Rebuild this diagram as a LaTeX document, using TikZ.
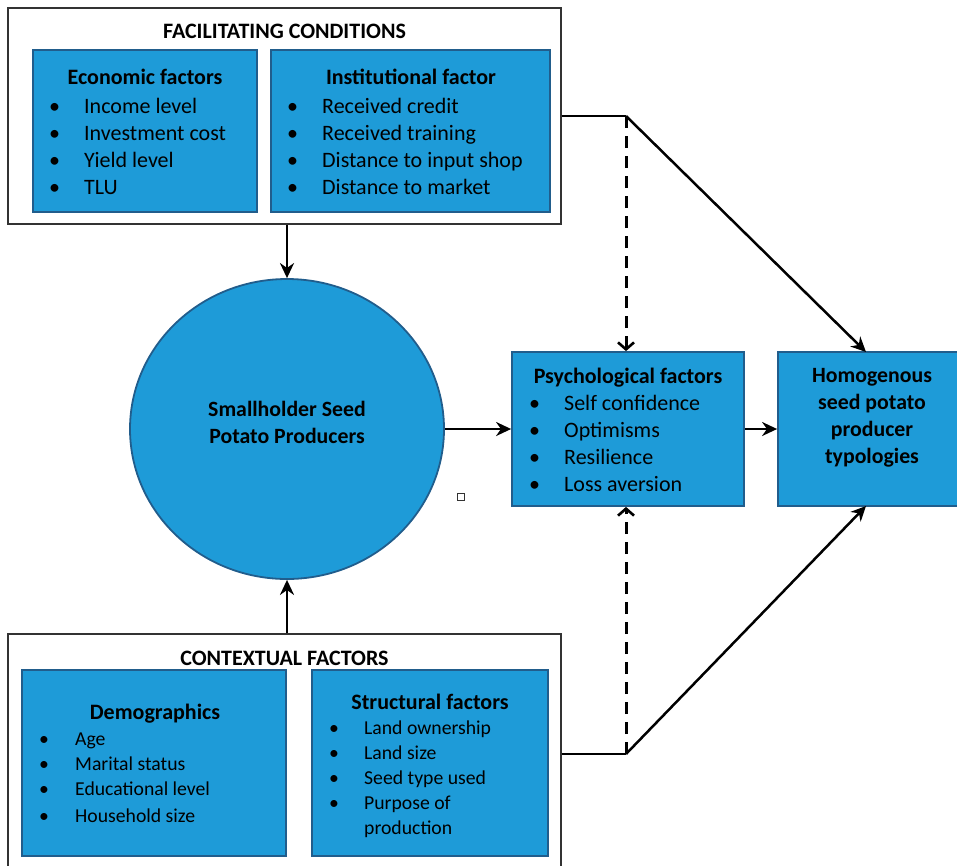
\documentclass[tikz,border=0pt]{standalone}
\usepackage{fontspec}
\setmainfont{Carlito}
\usetikzlibrary{arrows.meta,shapes.geometric}
\definecolor{boxfill}{HTML}{1E9BD8}
\definecolor{boxedge}{HTML}{215D8C}
\newcommand\bul[1]{\makebox[#1][l]{\textbullet}}
\begin{document}
\begin{tikzpicture}[x=1pt,y=-1pt,
  outerbox/.style={draw=black!80, line width=1.3pt, fill=white, inner sep=0pt},
  bluebox/.style={draw=boxedge, fill=boxfill, line width=1.8pt, inner sep=0pt},
  conn/.style={line width=2.5pt, -{Stealth[length=15pt,width=14pt]}},
  dashconn/.style={line width=3pt, dash pattern=on 12pt off 8pt, -{Straight Barb[length=7pt,width=16pt,line width=2.6pt]}},
  plainline/.style={line width=2.5pt},
  ttl/.style={font=\fontsize{22}{26}\selectfont\bfseries, inner sep=0pt, anchor=base},
  head/.style={font=\fontsize{22}{26}\selectfont\bfseries, inner sep=0pt, anchor=base},
  lst/.style={font=\fontsize{22}{27.3}\selectfont, inner sep=0pt, anchor=base west},
  lsts/.style={font=\fontsize{19.7}{25}\selectfont, inner sep=0pt, anchor=base west},
  bold/.style={font=\fontsize{21.8}{27}\selectfont\bfseries, inner sep=0pt, align=center}]
\useasboundingbox (0,0) rectangle (957,865);

% outer boxes
\node[outerbox, minimum width=553, minimum height=216] (fc) at (284.5,116) {};
\node[outerbox, minimum width=553, minimum height=240] (cf) at (284.5,754) {};
\node[ttl] (fct) at (284.5,38) {FACILITATING CONDITIONS};
\node[ttl] (cft) at (284.5,665) {CONTEXTUAL FACTORS};

% Economic factors
\node[bluebox, minimum width=224, minimum height=162] (eco) at (145,131) {};
\node[head] (ecoh) at (145,84) {Economic factors};
\node[lst] (ecol) at (49,113) {\begin{tabular}[t]{@{}l@{}l@{}}
\bul{35pt}&Income level\\
\bul{35pt}&Investment cost\\
\bul{35pt}&Yield level\\
\bul{35pt}&TLU
\end{tabular}};

% Institutional factor
\node[bluebox, minimum width=279, minimum height=162] (ins) at (410.5,131) {};
\node[head] (insh) at (411,84) {Institutional factor};
\node[lst] (insl) at (287,113) {\begin{tabular}[t]{@{}l@{}l@{}}
\bul{35pt}&Received credit\\
\bul{35pt}&Received training\\
\bul{35pt}&Distance to input shop\\
\bul{35pt}&Distance to market
\end{tabular}};

% Demographics
\node[bluebox, minimum width=264, minimum height=186] (dem) at (154,763) {};
\node[head] (demh) at (155,719) {Demographics};
\node[lsts] (deml) at (39,745) {\begin{tabular}[t]{@{}l@{}l@{}}
\bul{36pt}&Age\\
\bul{36pt}&Marital status\\
\bul{36pt}&Educational level\\[2pt]
\bul{36pt}&Household size
\end{tabular}};

% Structural factors
\node[bluebox, minimum width=236, minimum height=186] (str) at (430,763) {};
\node[head] (strh) at (430,709) {Structural factors};
\node[lsts] (strl) at (329,734) {\begin{tabular}[t]{@{}l@{}l@{}}
\bul{35pt}&Land ownership\\
\bul{35pt}&Land size\\
\bul{35pt}&Seed type used\\
\bul{35pt}&Purpose of\\
&production
\end{tabular}};

% circle
\node[ellipse, draw=boxedge, fill=boxfill, line width=1.8pt, minimum width=314, minimum height=300, inner sep=0pt] (circ) at (287,429) {};
\node[bold] (circt) at (287,422) {Smallholder Seed\\Potato Producers};

% Psychological factors
\node[bluebox, minimum width=232, minimum height=154] (psy) at (628,429) {};
\node[head] (psyh) at (628,383) {Psychological factors};
\node[lst] (psyl) at (529,410) {\begin{tabular}[t]{@{}l@{}l@{}}
\bul{35pt}&Self confidence\\
\bul{35pt}&Optimisms\\
\bul{35pt}&Resilience\\
\bul{35pt}&Loss aversion
\end{tabular}};

% Homogenous
\node[bluebox, minimum width=184, minimum height=154] (hom) at (870,429) {};
\node[bold] (homt) at (872,418) {Homogenous\\seed potato\\producer\\typologies};

% small square
\node[draw=black!80, line width=0.9pt, minimum size=7, inner sep=0pt] (sq) at (461,497) {};

% connectors
\coordinate (j1) at (626,116);
\coordinate (j2) at (626,754);
\coordinate (ht) at (866,352);
\coordinate (hb) at (866,506);
\draw[conn] (fc.south -| circ.north) -- (circ.north);
\draw[conn] (cf.north -| circ.south) -- (circ.south);
\draw[conn] (circ.east) -- (psy.west);
\draw[conn] (psy.east) -- (hom.west);
\draw[plainline] (fc.east |- j1) -- (j1);
\draw[conn] (j1) -- (ht);
\draw[dashconn] (j1) -- (j1 |- psy.north);
\draw[plainline] (cf.east |- j2) -- (j2);
\draw[conn] (j2) -- (hb);
\draw[dashconn] (j2) -- (j2 |- psy.south);
\end{tikzpicture}
\end{document}
